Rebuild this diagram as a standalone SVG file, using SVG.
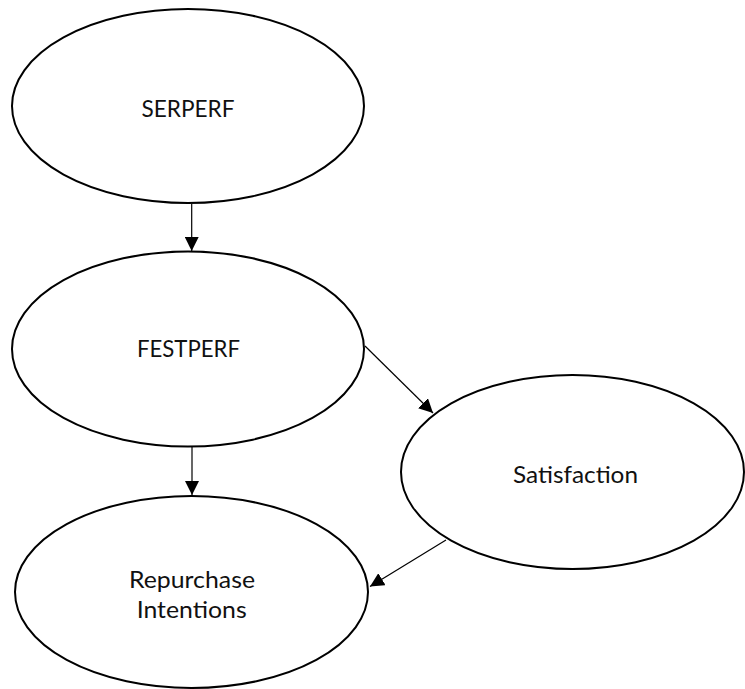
<svg xmlns="http://www.w3.org/2000/svg" width="745" height="689" viewBox="0 0 745 689">
<style>
.node ellipse{fill:#fff;stroke:#000;stroke-width:2}
.node text{font-family:Lato,"Open Sans","Liberation Sans",sans-serif;font-size:24px;fill:#111;text-anchor:middle}
.conn line{stroke:#000;stroke-width:1.2}
</style>
<defs>
<marker id="ah" markerUnits="userSpaceOnUse" markerWidth="15" markerHeight="14" refX="14" refY="7" orient="auto" viewBox="0 0 15 14">
<path d="M0,0 L14,7 L0,14 z" fill="#000"/>
</marker>
</defs>
<rect width="745" height="689" fill="#fff"/>
<g id="n-serperf" class="node">
<ellipse cx="188" cy="106" rx="176" ry="97"/>
<text x="188" y="117" textLength="93" lengthAdjust="spacingAndGlyphs">SERPERF</text>
</g>
<g id="n-festperf" class="node">
<ellipse cx="188" cy="349" rx="176" ry="97.5"/>
<text x="188.5" y="357" textLength="103" lengthAdjust="spacingAndGlyphs">FESTPERF</text>
</g>
<g id="n-satisfaction" class="node">
<ellipse cx="572.5" cy="472" rx="171.5" ry="97"/>
<text x="575.5" y="483" textLength="125" lengthAdjust="spacingAndGlyphs">Satisfaction</text>
</g>
<g id="n-repurchase" class="node">
<ellipse cx="191.5" cy="592" rx="176.5" ry="96"/>
<text x="192" y="588" textLength="126" lengthAdjust="spacingAndGlyphs">Repurchase</text>
<text x="191.7" y="618" textLength="110" lengthAdjust="spacingAndGlyphs">Intentions</text>
</g>
<g id="connectors" class="conn">
<line x1="191.7" y1="204" x2="191.7" y2="251" marker-end="url(#ah)"/>
<line x1="192" y1="447" x2="192" y2="495" marker-end="url(#ah)"/>
<line x1="365" y1="346" x2="433" y2="413" marker-end="url(#ah)"/>
<line x1="446" y1="540" x2="370" y2="586.5" marker-end="url(#ah)"/>
</g>
</svg>
